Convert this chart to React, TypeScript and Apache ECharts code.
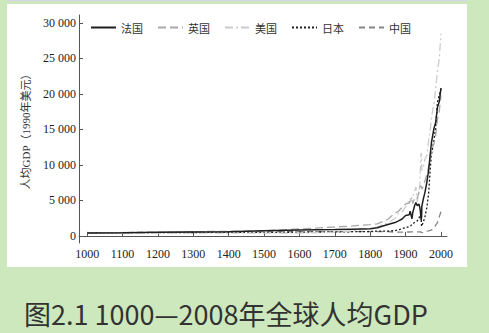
import React, { useEffect, useRef } from 'react';
import * as echarts from 'echarts';

const years = [1000, 1100, 1200, 1300, 1400, 1500, 1600, 1700, 1750, 1800, 1820, 1850, 1870, 1880, 1890, 1900, 1910, 1913, 1915, 1918, 1920, 1925, 1929, 1933, 1938, 1940, 1942, 1944, 1945, 1946, 1950, 1955, 1960, 1965, 1970, 1973, 1980, 1985, 1990, 1995, 2000];

const france = [425, 450, 500, 550, 600, 727, 841, 910, 950, 1000, 1135, 1597, 1876, 2120, 2376, 2876, 2965, 3485, 3000, 2396, 3227, 4166, 4710, 4264, 4466, 4042, 3400, 2200, 2600, 4200, 5186, 6200, 7546, 9200, 11664, 13114, 15106, 15970, 18093, 18900, 20808];
const uk = [400, 450, 500, 600, 650, 714, 974, 1250, 1400, 1600, 1706, 2330, 3190, 3477, 4009, 4492, 4611, 4921, 5200, 5200, 4548, 5144, 5503, 5277, 6266, 6856, 7000, 7000, 6737, 6600, 6939, 7800, 8645, 9700, 10767, 12025, 12931, 14100, 16430, 17500, 19817];
const usa = [400, 400, 400, 400, 400, 400, 400, 527, 700, 1000, 1257, 1849, 2445, 3184, 3392, 4091, 4964, 5301, 4864, 5659, 5552, 6151, 6899, 4777, 6126, 7010, 9741, 11709, 11303, 9197, 9561, 10897, 11328, 13419, 15030, 16689, 18577, 20717, 23201, 24900, 28467];
const japan = [425, 450, 460, 480, 490, 500, 520, 570, 590, 620, 669, 681, 737, 863, 1012, 1180, 1304, 1387, 1430, 1668, 1696, 1885, 2026, 2122, 2449, 2874, 2818, 2659, 1346, 1444, 1921, 2771, 3986, 5934, 9714, 11434, 13428, 15331, 18789, 19800, 20738];
const china = [450, 470, 500, 560, 600, 600, 600, 600, 600, 600, 600, 600, 530, 540, 540, 545, 550, 552, 560, 560, 560, 565, 570, 575, 562, 560, 550, 530, 520, 500, 448, 575, 662, 706, 778, 838, 1061, 1519, 1871, 2653, 3421];

const seriesNames = ['法国', '英国', '美国', '日本', '中国'];
const yTicks = [0, 5000, 10000, 15000, 20000, 25000, 30000];
const xTicks = [1000, 1100, 1200, 1300, 1400, 1500, 1600, 1700, 1800, 1900, 2000];
const caption = '图2.1 1000—2008年全球人均GDP';

export default function App() {
  const ref = useRef<HTMLDivElement>(null);
  useEffect(() => {
    document.body.style.margin = '0';
    const chart = echarts.init(ref.current!, null, { renderer: 'svg' });
    const pair = (arr: number[]) => years.map((y, i) => [y, arr[i]]);
    const styles = [
      { color: '#1e1e1e', width: 1.5, type: 'solid' as any },
      { color: '#a8a8a8', width: 1.3, type: [8, 4] as any },
      { color: '#cccccc', width: 1.3, type: [8, 3, 2, 3] as any },
      { color: '#1e1e1e', width: 1.3, type: [2, 2] as any },
      { color: '#858585', width: 1.3, type: [6, 4] as any },
    ];
    const datas = [france, uk, usa, japan, china];
    const fmt = (v: number) => String(v).replace(/\B(?=(\d{3})+(?!\d))/g, ' ');
    chart.setOption({
      animation: false,
      backgroundColor: '#cee8be',
      graphic: [
        { type: 'rect', z: -100, shape: { x: 7, y: 0, width: 460, height: 1 }, style: { fill: '#d4d4e6' } },
        { type: 'rect', z: -100, shape: { x: 7, y: 4, width: 460, height: 263 }, style: { fill: '#ffffff' } },
        {
          type: 'text', x: 24, y: 313,
          style: { text: caption, fill: '#333333', font: '27px "Noto Sans CJK SC", "Noto Sans", sans-serif', textVerticalAlign: 'middle', lineHeight: 27 },
        },
      ],
      legend: {
        left: 85, top: 17, itemWidth: 25, itemHeight: 12, itemGap: 14,
        data: seriesNames,
        itemStyle: { opacity: 0, borderWidth: 0 },
        textStyle: { fontSize: 11, color: '#333', fontFamily: '"Noto Sans CJK SC", serif' },
      },
      grid: { left: 79, right: 42, top: 15, bottom: 90 },
      xAxis: {
        type: 'value', min: 977, max: 2017,
        axisLine: { show: true, lineStyle: { color: '#555', width: 1 } },
        axisTick: { show: true, inside: true, length: 4, customValues: xTicks, lineStyle: { color: '#555' } },
        axisLabel: { customValues: xTicks, formatter: (v: number) => String(v), color: '#222', fontSize: 12, fontFamily: '"Liberation Serif", serif', margin: 5 },
        splitLine: { show: false },
      },
      yAxis: {
        type: 'value', min: -1000, max: 31100,
        name: '人均GDP（1990年美元）', nameLocation: 'middle', nameGap: 48, nameRotate: 90,
        nameTextStyle: { fontSize: 11, color: '#333', fontFamily: '"Liberation Serif", "Noto Sans CJK SC", serif' },
        axisLine: { show: true, lineStyle: { color: '#555', width: 1 } },
        axisTick: { show: true, inside: true, length: 4, customValues: yTicks, lineStyle: { color: '#555' } },
        axisLabel: { customValues: yTicks, formatter: fmt, color: '#222', fontSize: 12, fontFamily: '"Liberation Serif", serif', margin: 3 },
        splitLine: { show: false },
      },
      series: seriesNames.map((n, i) => ({
        name: n, type: 'line', data: pair(datas[i]), showSymbol: false, symbol: 'none',
        lineStyle: styles[i], itemStyle: { color: styles[i].color }, z: 10 - i,
      })),
    });
    return () => chart.dispose();
  }, []);
  return <div ref={ref} style={{ width: 489, height: 333 }} />;
}
